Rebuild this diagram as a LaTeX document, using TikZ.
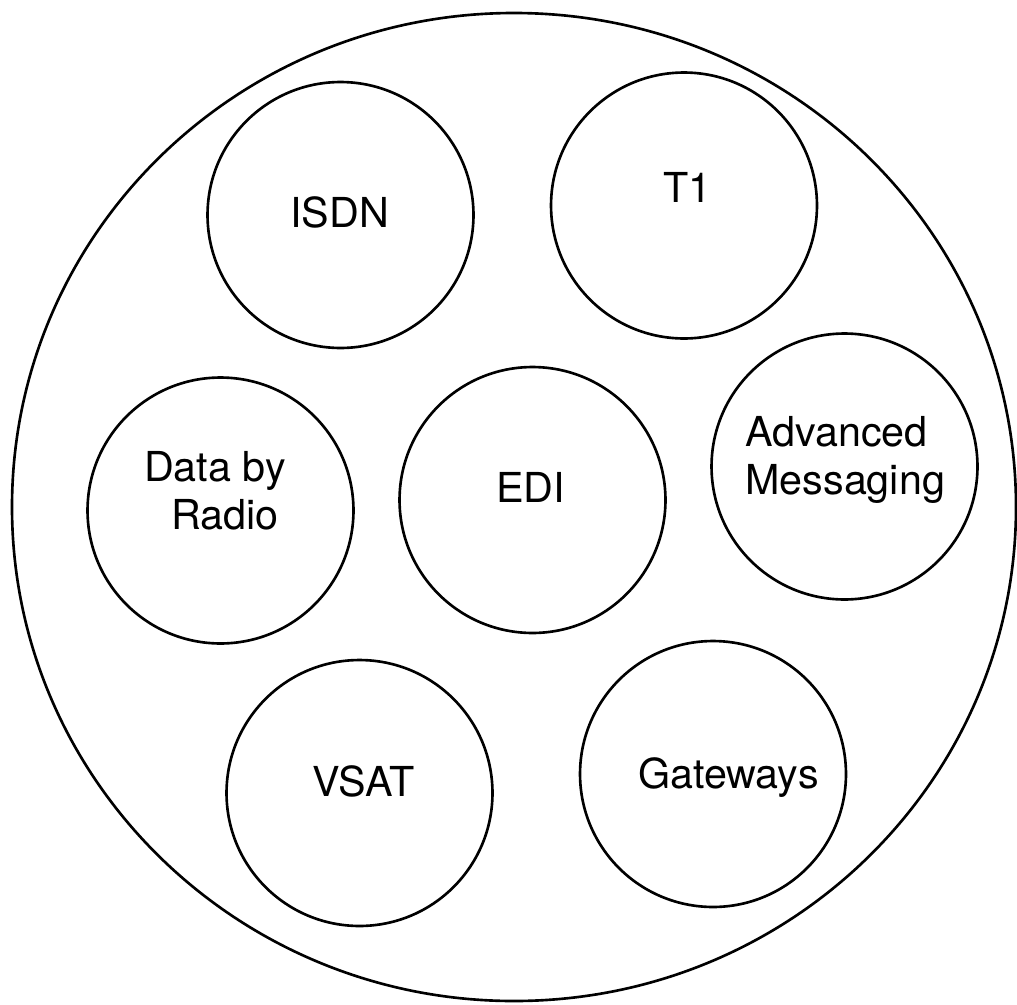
\documentclass[tikz,border=0pt]{standalone}
\usepackage{fontspec}
\setmainfont{TeX Gyre Heros}
\usepackage{tikz}
\usetikzlibrary{positioning}

\begin{document}
\begin{tikzpicture}[
                x=0.02cm, y=-0.02cm,
                service/.style={circle, draw=black, line width=1.5pt, minimum size=5.32cm, inner sep=0pt},
                caption/.style={inner sep=0pt, anchor=base, font=\fontsize{23.5}{27}\selectfont},
                auto
            ]

            \useasboundingbox (0,0) rectangle (1017,1004);

            %outer ring
            \draw[line width=1.5pt] (514,507) ellipse [x radius=502, y radius=494];

            %services
            \node[service]      (isdn)      at (340.5,215)  {};
            \node[service]      (t1)        at (684,205.5)  {};
            \node[service]      (radio)     at (220.5,510.5) {};
            \node[service]      (edi)       at (532.5,500)  {};
            \node[service]      (adv)       at (844.5,466.5) {};
            \node[service]      (vsat)      at (359.5,793)  {};
            \node[service]      (gate)      at (713,774)    {};

            %labels (multi-line ones sit on their last baseline)
            \node[caption]      (isdn_t)    at (339.5,227)  {ISDN};
            \node[caption]      (t1_t)      at (687.5,202)  {T1};
            \node[caption, align=center] (radio_t) at (215,529) {Data by\\\hspace*{0.4cm}Radio};
            \node[caption]      (edi_t)     at (530.5,502)  {EDI};
            \node[caption, align=left, anchor=base west] (adv_t) at (745,494) {Advanced\\Messaging};
            \node[caption]      (vsat_t)    at (363.5,796)  {VSAT};
            \node[caption]      (gate_t)    at (728.5,788)  {Gateways};

            \end{tikzpicture}
\end{document}
